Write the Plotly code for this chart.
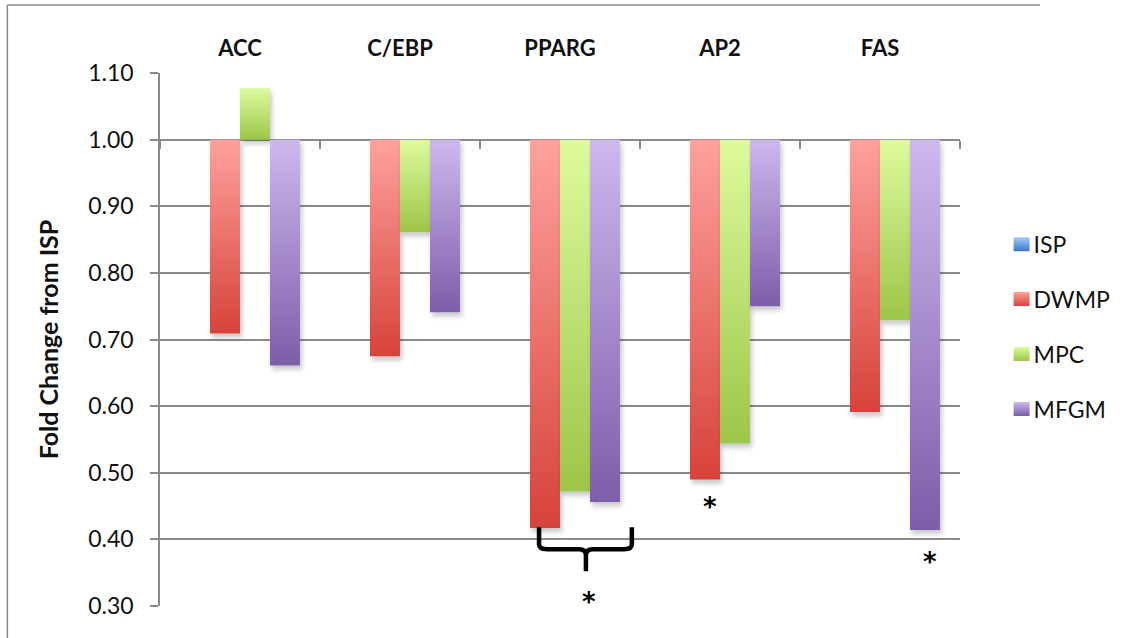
import json
import plotly.graph_objects as go

categories = ["ACC", "C/EBP", "PPARG", "AP2", "FAS"]
series_names = ["ISP", "DWMP", "MPC", "MFGM"]
isp = [1.000, 1.000, 1.000, 1.000, 1.000]
dwmp = [0.709, 0.675, 0.417, 0.490, 0.591]
mpc = [1.077, 0.861, 0.472, 0.544, 0.729]
mfgm = [0.661, 0.741, 0.456, 0.750, 0.414]
y_ticks = [0.30, 0.40, 0.50, 0.60, 0.70, 0.80, 0.90, 1.00, 1.10]

baseline = 1.0
series = [isp, dwmp, mpc, mfgm]
mid_colors = ["#6E9FE0", "#EC7068", "#BEE07A", "#A68BD0"]
grad_colors = [["#A6CBF9", "#3B78C9"], ["#FFA19D", "#D6433A"],
               ["#DDFB9E", "#9CC648"], ["#CDB8EE", "#7E5DA9"]]

FONT = "Lato"
GRAY = "#8a8a8a"

fig = go.Figure()
for i, (name, vals) in enumerate(zip(series_names, series)):
    fig.add_trace(go.Bar(
        x=categories,
        y=[v - baseline for v in vals],
        base=[baseline] * len(vals),
        name=name,
        legendgroup=name,
        marker=dict(color=mid_colors[i], line=dict(width=0)),
        customdata=vals,
        hovertemplate="%{x}: %{customdata:.2f}<extra>" + name + "</extra>",
    ))

# invisible helper trace carrying the boundary tick marks along y = 1.00
fig.add_trace(go.Scatter(x=categories, y=[None] * len(categories), xaxis="x2",
                         mode="lines", showlegend=False, hoverinfo="skip"))

fig.update_layout(
    width=1136, height=638,
    margin=dict(l=160, r=174, t=73, b=32),
    paper_bgcolor="white", plot_bgcolor="white",
    barmode="group", bargap=0.25, bargroupgap=0,
    font=dict(family=FONT, color="#111111"),
    xaxis=dict(type="category", side="top", showgrid=False, showline=False,
               ticks="", tickfont=dict(family=FONT, size=22, color="#111111", weight="bold"),
               ticklabelstandoff=12, fixedrange=True),
    xaxis2=dict(type="category", overlaying="x", matches="x", anchor="free",
                position=(baseline - 0.30) / (1.10 - 0.30), side="bottom",
                ticks="outside", ticklen=8, tickwidth=1.5, tickcolor=GRAY,
                tickson="boundaries", showticklabels=False, showline=False,
                showgrid=False),
    yaxis=dict(range=[0.30, 1.10], tickvals=y_ticks, tickformat=".2f",
               showgrid=True, gridcolor=GRAY, gridwidth=1.5, zeroline=False,
               showline=True, linecolor=GRAY, linewidth=1.5,
               ticks="outside", ticklen=8, tickwidth=1.5, tickcolor=GRAY,
               ticklabelstandoff=12,
               tickfont=dict(family=FONT, size=23, color="#111111"),
               title=dict(text="Fold Change from ISP", standoff=22,
                          font=dict(family=FONT, size=25, color="#111111", weight="bold"))),
    legend=dict(x=1.052, y=0.719, xanchor="left", yanchor="top",
                traceorder="grouped", tracegroupgap=22, itemwidth=30,
                font=dict(family=FONT, size=23, color="#111111"),
                bgcolor="rgba(0,0,0,0)"),
    showlegend=True,
)

# outer chart frame: top edge only ends before the page edge (diagnostic)
fig.add_shape(type="line", xref="paper", yref="paper",
              x0=-0.1908, x1=1.1, y0=1.1276, y1=1.1276,
              line=dict(color=GRAY, width=1.5), layer="above")
fig.add_shape(type="line", xref="paper", yref="paper",
              x0=-0.1908, x1=-0.1908, y0=-0.0601, y1=1.1276,
              line=dict(color=GRAY, width=1.5), layer="above")

# significance brace under PPARG
brace = ("M 0.4738,0.4183 L 0.4738,0.3928 Q 0.4738,0.3853 0.4838,0.3853 "
         "L 0.5237,0.3853 Q 0.5324,0.3853 0.5324,0.3763 L 0.5324,0.3523 "
         "M 0.5324,0.3763 Q 0.5324,0.3853 0.5411,0.3853 L 0.5798,0.3853 "
         "Q 0.5898,0.3853 0.5898,0.3928 L 0.5898,0.4183")
fig.add_shape(type="path", xref="paper", yref="y", path=brace,
              line=dict(color="black", width=4.5))

stars = [(2.18, 0.315), (2.935, 0.457), (4.31, 0.375)]
for sx, sy in stars:
    fig.add_annotation(x=sx, y=sy, xref="x", yref="y", text="*", showarrow=False,
                       font=dict(family="DejaVu Sans", size=26, color="black", weight="bold"),
                       yshift=-6)

post = """
var gd = document.getElementById('{plot_id}');
var ns = 'http://www.w3.org/2000/svg';
var svg = gd.querySelector('svg.main-svg');
var defs = svg.querySelector('defs');
if (!defs) { defs = document.createElementNS(ns, 'defs'); svg.insertBefore(defs, svg.firstChild); }
var G = GRADS;
G.forEach(function(c, i) {
  var lg = document.createElementNS(ns, 'linearGradient');
  lg.setAttribute('id', 'bg' + i);
  lg.setAttribute('x1', '0'); lg.setAttribute('y1', '0');
  lg.setAttribute('x2', '0'); lg.setAttribute('y2', '1');
  [[0, c[0]], [1, c[1]]].forEach(function(s) {
    var st = document.createElementNS(ns, 'stop');
    st.setAttribute('offset', s[0]);
    st.setAttribute('stop-color', s[1]);
    lg.appendChild(st);
  });
  defs.appendChild(lg);
});
var f = document.createElementNS(ns, 'filter');
f.setAttribute('id', 'bshadow');
f.setAttribute('x', '-0.5'); f.setAttribute('y', '-0.2');
f.setAttribute('width', '2'); f.setAttribute('height', '1.5');
var ds = document.createElementNS(ns, 'feDropShadow');
ds.setAttribute('dx', '2'); ds.setAttribute('dy', '4');
ds.setAttribute('stdDeviation', '2.5');
ds.setAttribute('flood-color', '#000'); ds.setAttribute('flood-opacity', '0.22');
f.appendChild(ds);
defs.appendChild(f);
gd.querySelectorAll('.barlayer .trace').forEach(function(t, i) {
  t.querySelectorAll('.point path').forEach(function(p) {
    p.style.fill = 'url(#bg' + i + ')';
    p.style.filter = 'url(#bshadow)';
  });
});
var li = 0;
gd.querySelectorAll('.legend .traces').forEach(function(t) {
  var p = t.querySelector('.legendpoints path');
  if (p && li < G.length) {
    p.style.fill = 'url(#bg' + li + ')';
    p.setAttribute('d', 'M8,7H-8V-7H8Z');
    var tx = t.querySelector('text.legendtext');
    if (tx) { tx.setAttribute('x', '32'); }
    li++;
  }
});
""".replace("GRADS", json.dumps(grad_colors))

fig.write_html("out.html", post_script=post, config={"displayModeBar": False})
